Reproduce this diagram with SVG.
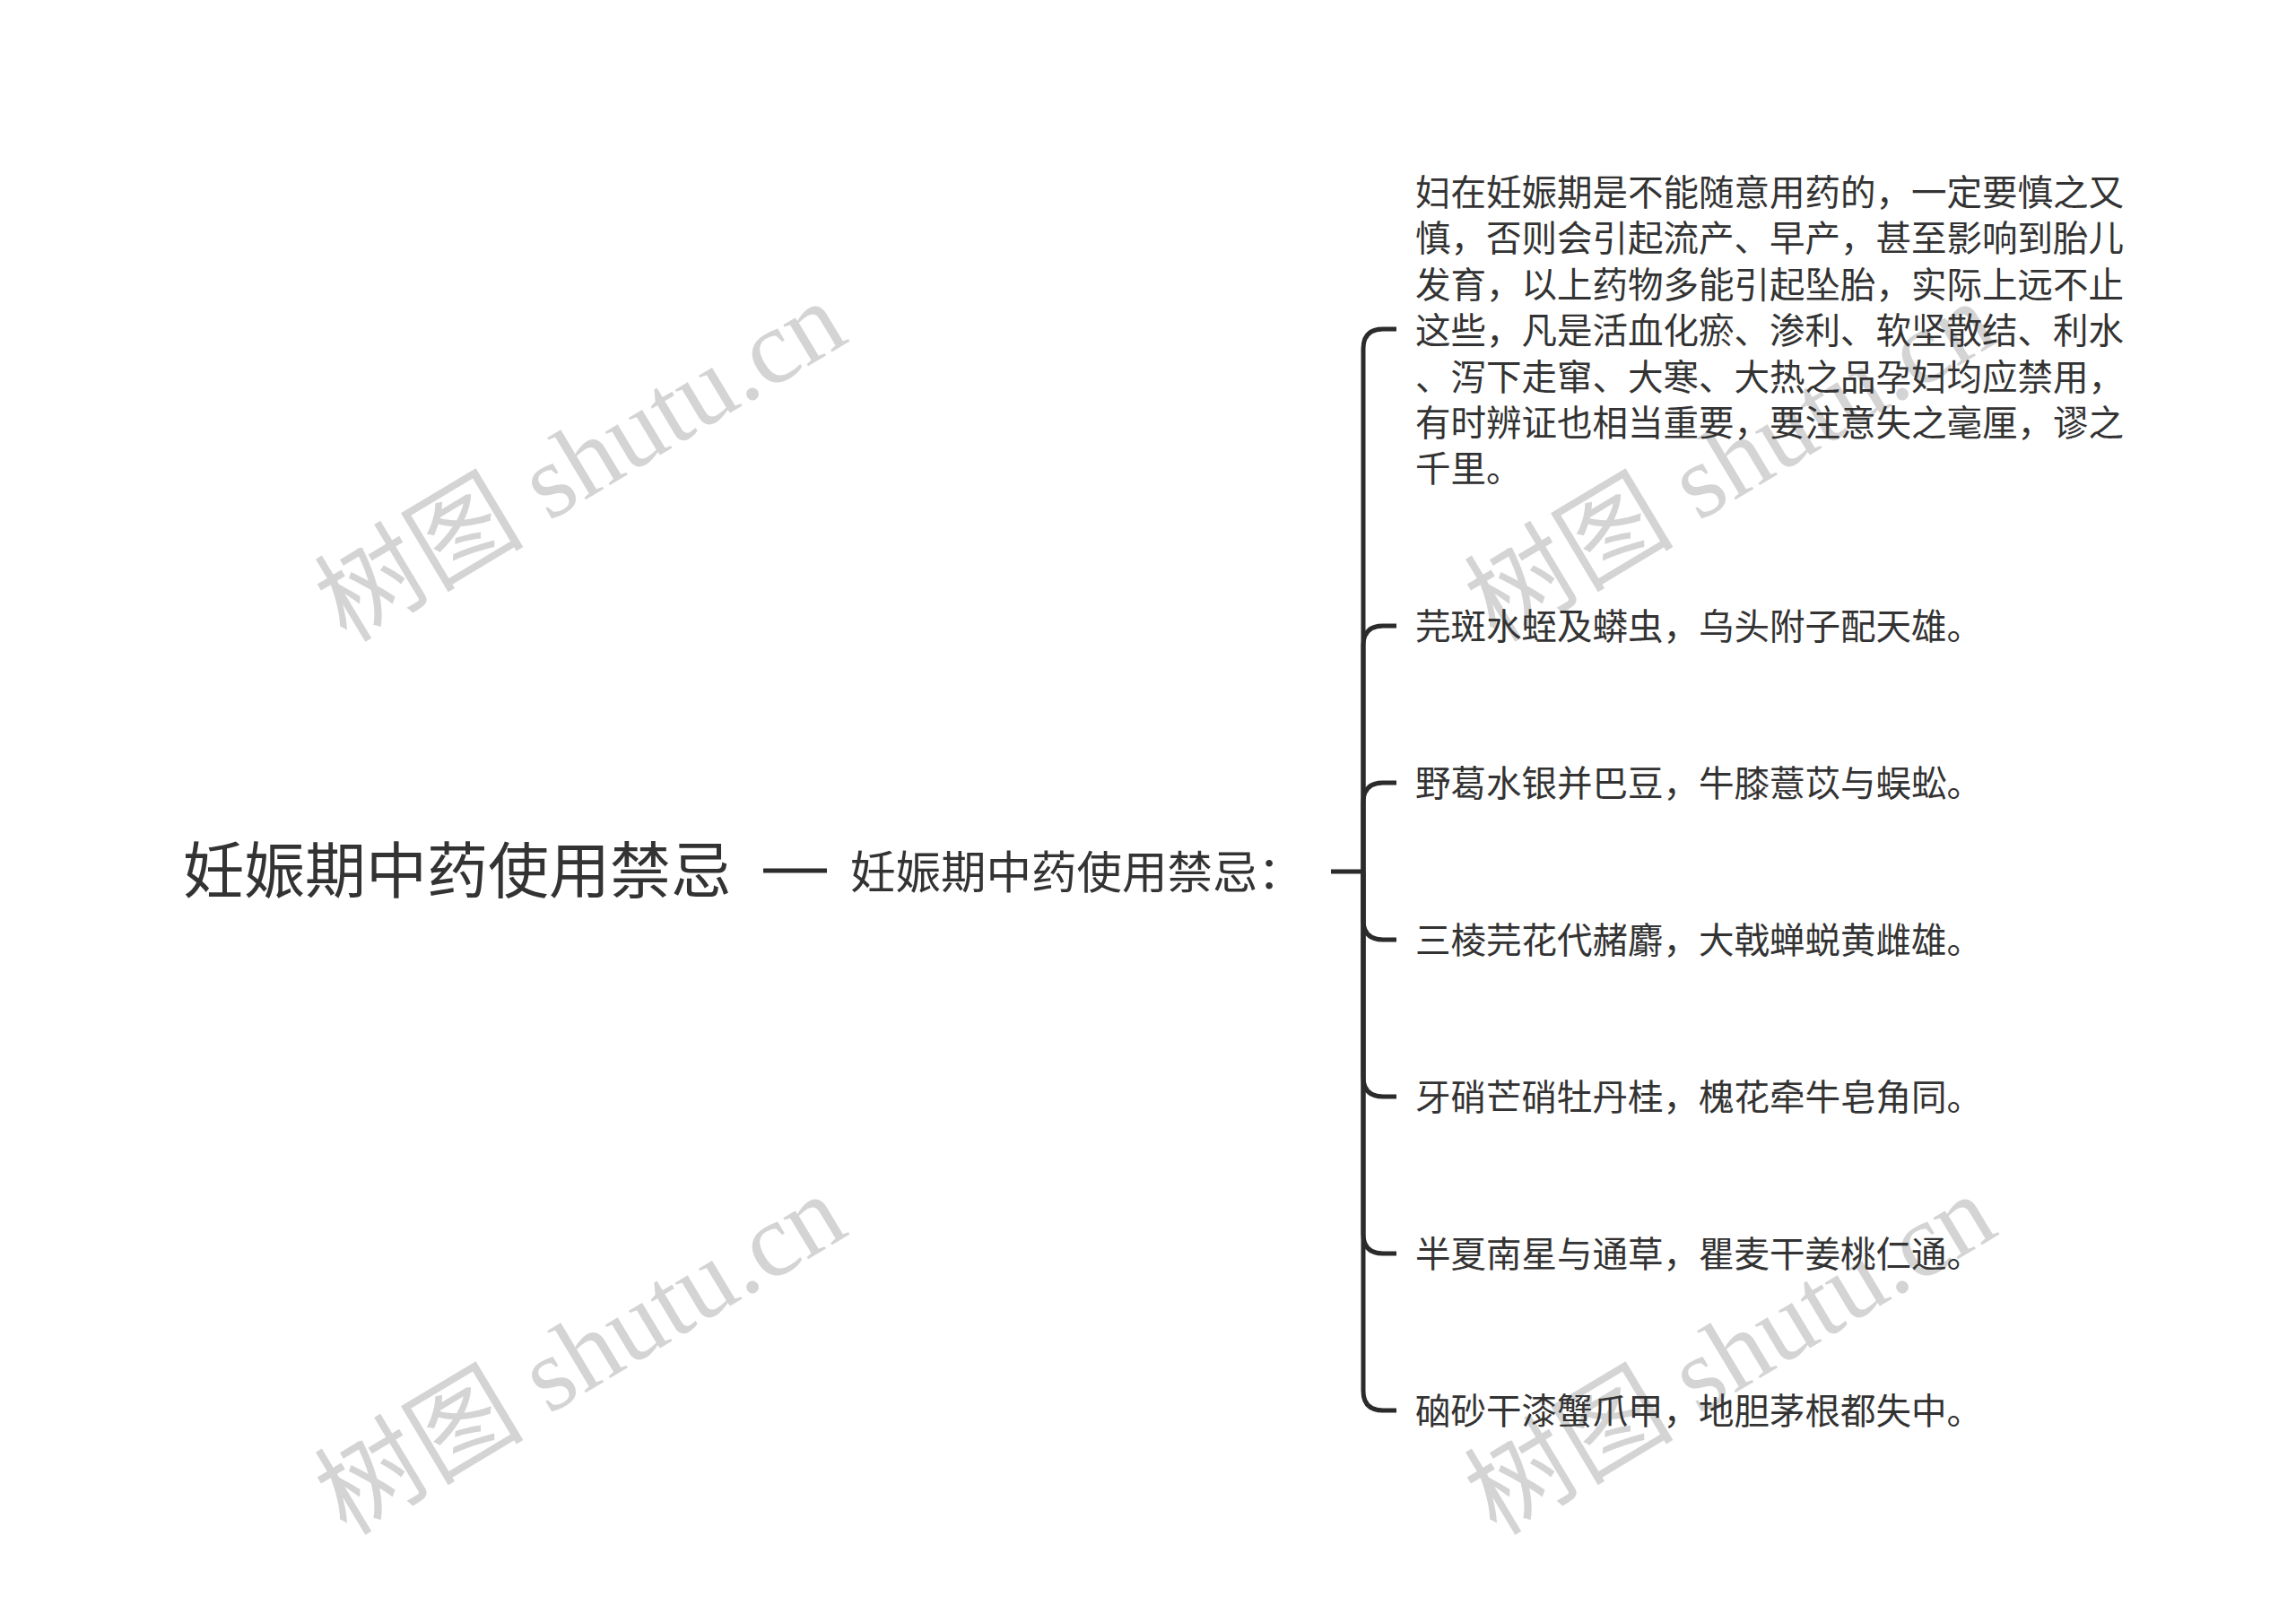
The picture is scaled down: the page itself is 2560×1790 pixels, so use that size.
<svg xmlns="http://www.w3.org/2000/svg" width="2560" height="1790" viewBox="0 0 2560 1790">
<style>
.wm{font-family:"Liberation Serif","Noto Sans CJK SC",serif;font-size:117px;fill:#d4d4d4;text-anchor:middle}
.t{font-family:"Noto Sans CJK SC","Noto Sans",sans-serif;fill:#333333}
.root{font-size:68px}
.sub{font-size:50.5px}
.item{font-size:39.5px}
.c{fill:none;stroke:#2b2b2b;stroke-width:5;stroke-linecap:butt}
</style>
<rect width="2560" height="1790" fill="#ffffff"/>
<g id="watermarks">
<text class="wm" x="648" y="554" transform="rotate(-31 648 516)">树图 shutu.cn</text>
<text class="wm" x="1930" y="554" transform="rotate(-31 1930 516)">树图 shutu.cn</text>
<text class="wm" x="648" y="1550" transform="rotate(-31 648 1512)">树图 shutu.cn</text>
<text class="wm" x="1930" y="1550" transform="rotate(-31 1930 1512)">树图 shutu.cn</text>
</g>
<g id="connectors">
<path class="c" d="M851,971 H922"/>
<path class="c" d="M1484,972 H1520"/>
<path class="c" d="M1520,972 V389 Q1520,367 1542,367 H1557"/>
<path class="c" d="M1520,972 V720 Q1520,698 1542,698 H1557"/>
<path class="c" d="M1520,972 V895 Q1520,873 1542,873 H1557"/>
<path class="c" d="M1520,972 V1026 Q1520,1048 1542,1048 H1557"/>
<path class="c" d="M1520,972 V1201 Q1520,1223 1542,1223 H1557"/>
<path class="c" d="M1520,972 V1376 Q1520,1398 1542,1398 H1557"/>
<path class="c" d="M1520,972 V1551 Q1520,1573 1542,1573 H1557"/>
</g>
<g id="root"><text class="t root" x="204" y="996">妊娠期中药使用禁忌</text></g>
<g id="sub"><text class="t sub" x="948" y="991">妊娠期中药使用禁忌：</text></g>
<g id="item1">
<text class="t item" x="1578" y="229">妇在妊娠期是不能随意用药的，一定要慎之又</text>
<text class="t item" x="1578" y="280.4">慎，否则会引起流产、早产，甚至影响到胎儿</text>
<text class="t item" x="1578" y="331.8">发育，以上药物多能引起坠胎，实际上远不止</text>
<text class="t item" x="1578" y="383.2">这些，凡是活血化瘀、渗利、软坚散结、利水</text>
<text class="t item" x="1578" y="434.6">、泻下走窜、大寒、大热之品孕妇均应禁用，</text>
<text class="t item" x="1578" y="486">有时辨证也相当重要，要注意失之毫厘，谬之</text>
<text class="t item" x="1578" y="537.4">千里。</text>
</g>
<g id="item2"><text class="t item" x="1578" y="713">芫斑水蛭及蟒虫，乌头附子配天雄。</text></g>
<g id="item3"><text class="t item" x="1578" y="888">野葛水银并巴豆，牛膝薏苡与蜈蚣。</text></g>
<g id="item4"><text class="t item" x="1578" y="1063">三棱芫花代赭麝，大戟蝉蜕黄雌雄。</text></g>
<g id="item5"><text class="t item" x="1578" y="1238">牙硝芒硝牡丹桂，槐花牵牛皂角同。</text></g>
<g id="item6"><text class="t item" x="1578" y="1413">半夏南星与通草，瞿麦干姜桃仁通。</text></g>
<g id="item7"><text class="t item" x="1578" y="1588">硇砂干漆蟹爪甲，地胆茅根都失中。</text></g>
</svg>
